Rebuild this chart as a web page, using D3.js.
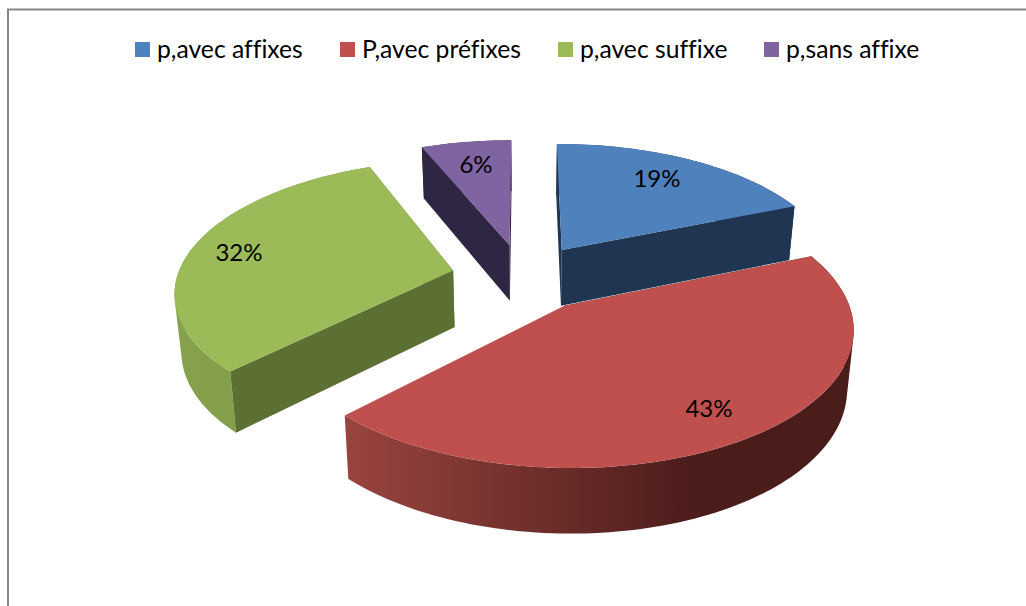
<!DOCTYPE html>
<html><head><meta charset="utf-8">
<script src="https://cdn.jsdelivr.net/npm/d3@7"></script>
<style>html,body{margin:0;padding:0;background:#fff}svg{display:block}text{font-family:Lato,"Open Sans",sans-serif;fill:#000;font-variant-ligatures:none}</style>
</head><body>
<svg id="c" width="1026" height="606"></svg>
<script>
const categories = ["p,avec affixes","P,avec préfixes","p,avec suffixe","p,sans affixe"];
const values = [18.8,43.6,31.4,6.2];
const labels = ["19%","43%","32%","6%"];
const colors = ["#4F81BD","#C0504D","#9BBB59","#8064A2"];
const wallColors = ["#1F3552","#4A1C1A","#5D7033","#2F2644"];
const outerLeft = ["#2A4568","#9A4440","#86A24C","#3A2E55"];
const outerRight = ["#1F3552","#4A1C1A","#7A9645","#2F2644"];
const legendX = [135,340,558,764];
const labelPos = [[657,177],[709,407],[239,251],[476,163]];

const W=1026,H=606,cx=523,cy=277,rx=276,ry=129,k=0.147,explode=0.26,hgt=57;
const svg=d3.select("#c");
const defs=svg.append("defs");

svg.append("path").attr("d",`M8,606V9.5H1026`).attr("fill","none").attr("stroke","#868686").attr("stroke-width",2);

function proj(X,Y,low){
  const s=1/(1-k*Y);
  let x=rx*X*s,y=ry*Y*s;
  if(low){x*=0.98;y=y*0.98+hgt*s;}
  return [cx+x,cy+y];
}
const pie=d3.pie().sort(null).value(d=>d)(values);
const line=d3.line();
function ring(a0,a1,ox,oy,low){
  const n=Math.max(8,Math.round((a1-a0)*40));
  return d3.range(n+1).map(i=>{
    const t=a0+(a1-a0)*i/n;
    return proj(ox+Math.sin(t),oy-Math.cos(t),low);
  });
}
const order=[3,0,2,1];
order.forEach(i=>{
  const d=pie[i],mid=(d.startAngle+d.endAngle)/2;
  const ox=explode*Math.sin(mid),oy=-explode*Math.cos(mid);
  const g=svg.append("g");
  const top=ring(d.startAngle,d.endAngle,ox,oy,false);
  const bot=ring(d.startAngle,d.endAngle,ox,oy,true);
  const aT=proj(ox,oy,false),aB=proj(ox,oy,true);
  const xs=top.map(p=>p[0]);
  const id="grad"+i;
  const gr=defs.append("linearGradient").attr("id",id).attr("gradientUnits","userSpaceOnUse")
    .attr("x1",d3.min(xs)).attr("x2",d3.max(xs)).attr("y1",0).attr("y2",0);
  gr.append("stop").attr("offset",0).attr("stop-color",outerLeft[i]);
  if(i===1) gr.append("stop").attr("offset",0.7).attr("stop-color",outerRight[i]);
  gr.append("stop").attr("offset",1).attr("stop-color",outerRight[i]);
  // one path of same-wound quads: the silhouette follows the curve, with no seams
  const wall=d3.range(top.length-1).map(j=>{
    const q=[top[j],top[j+1],bot[j+1],bot[j]];
    return line(d3.polygonArea(q)<0?q.reverse():q)+"Z";
  }).join("");
  g.append("path").attr("d",wall).attr("fill",`url(#${id})`);
  const first=[top[0],bot[0]],last=[top[top.length-1],bot[bot.length-1]];
  const ends=i===1?[first]:[first,last];
  ends.forEach(([t,b])=>{
    g.append("path").attr("d",line([aT,t,b,aB])+"Z").attr("fill",wallColors[i]);
  });
  g.append("path").attr("d",line([aT].concat(top))+"Z").attr("fill",colors[i]);
});

labels.forEach((t,i)=>{
  svg.append("text").attr("x",labelPos[i][0]).attr("y",labelPos[i][1]).attr("text-anchor","middle")
    .attr("dominant-baseline","central").attr("font-size",24).text(t);
});
categories.forEach((t,i)=>{
  svg.append("rect").attr("x",legendX[i]).attr("y",42).attr("width",15).attr("height",15).attr("fill",colors[i]);
  svg.append("text").attr("x",legendX[i]+22).attr("y",58).attr("font-size",24.7).text(t);
});
</script>
</body></html>
